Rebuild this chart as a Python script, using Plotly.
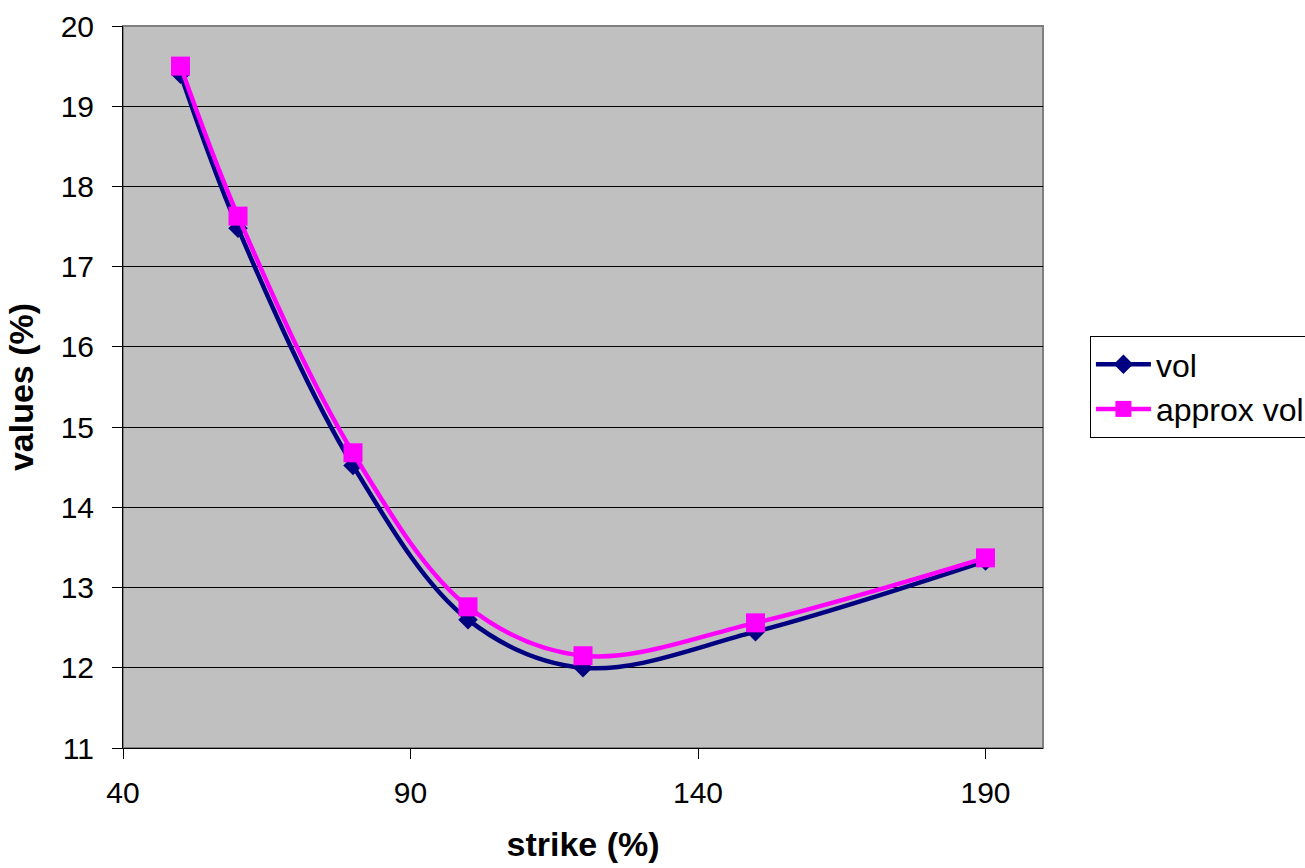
import plotly.graph_objects as go

strike = [50, 60, 80, 100, 120, 150, 190]
vol = [19.4, 17.48, 14.52, 12.6, 12.0, 12.45, 13.33]
approx_vol = [19.5, 17.63, 14.68, 12.76, 12.15, 12.56, 13.37]

x_ticks = [40, 90, 140, 190]
y_ticks = list(range(11, 21))

fig = go.Figure()
fig.add_trace(go.Scatter(
    x=strike, y=vol, name="vol", mode="lines+markers",
    line=dict(color="#000080", width=4.5, shape="spline", smoothing=1.0),
    marker=dict(symbol="diamond", size=15, color="#000080"),
))
fig.add_trace(go.Scatter(
    x=strike, y=approx_vol, name="approx vol", mode="lines+markers",
    line=dict(color="#FF00FF", width=4.5, shape="spline", smoothing=1.0),
    marker=dict(symbol="square", size=19, color="#FF00FF"),
))

fig.update_layout(
    width=1305, height=868,
    margin=dict(l=123, r=262, t=26, b=120, autoexpand=False),
    paper_bgcolor="white", plot_bgcolor="#C0C0C0",
    font=dict(family="Arial, Liberation Sans, sans-serif", size=30, color="black"),
    showlegend=True,
    legend=dict(x=1.051, y=0.5, xanchor="left", yanchor="middle",
                bgcolor="white", bordercolor="black", borderwidth=1,
                font=dict(size=32), tracegroupgap=0, itemwidth=55),
    shapes=[dict(type="rect", xref="paper", yref="paper", x0=0, y0=0, x1=1, y1=1,
                 line=dict(color="#808080", width=2), layer="below")],
)
fig.update_xaxes(
    range=[40, 200], tickvals=x_ticks, ticks="outside", ticklen=10, tickcolor="black",
    showgrid=False, zeroline=False, showline=True, linecolor="black", linewidth=1,
    tickfont=dict(size=30), ticklabelstandoff=8,
    title=dict(text="<b>strike (%)</b>", font=dict(size=34), standoff=24),
)
fig.update_yaxes(
    range=[11, 20], tickvals=y_ticks, ticks="outside", ticklen=10, tickcolor="black",
    showgrid=True, gridcolor="black", gridwidth=1, zeroline=False,
    showline=True, linecolor="black", linewidth=1,
    tickfont=dict(size=30), ticklabelstandoff=12,
    title=dict(text="<b>values (%)</b>", font=dict(size=34), standoff=16),
)

fig.write_html("out.html")
